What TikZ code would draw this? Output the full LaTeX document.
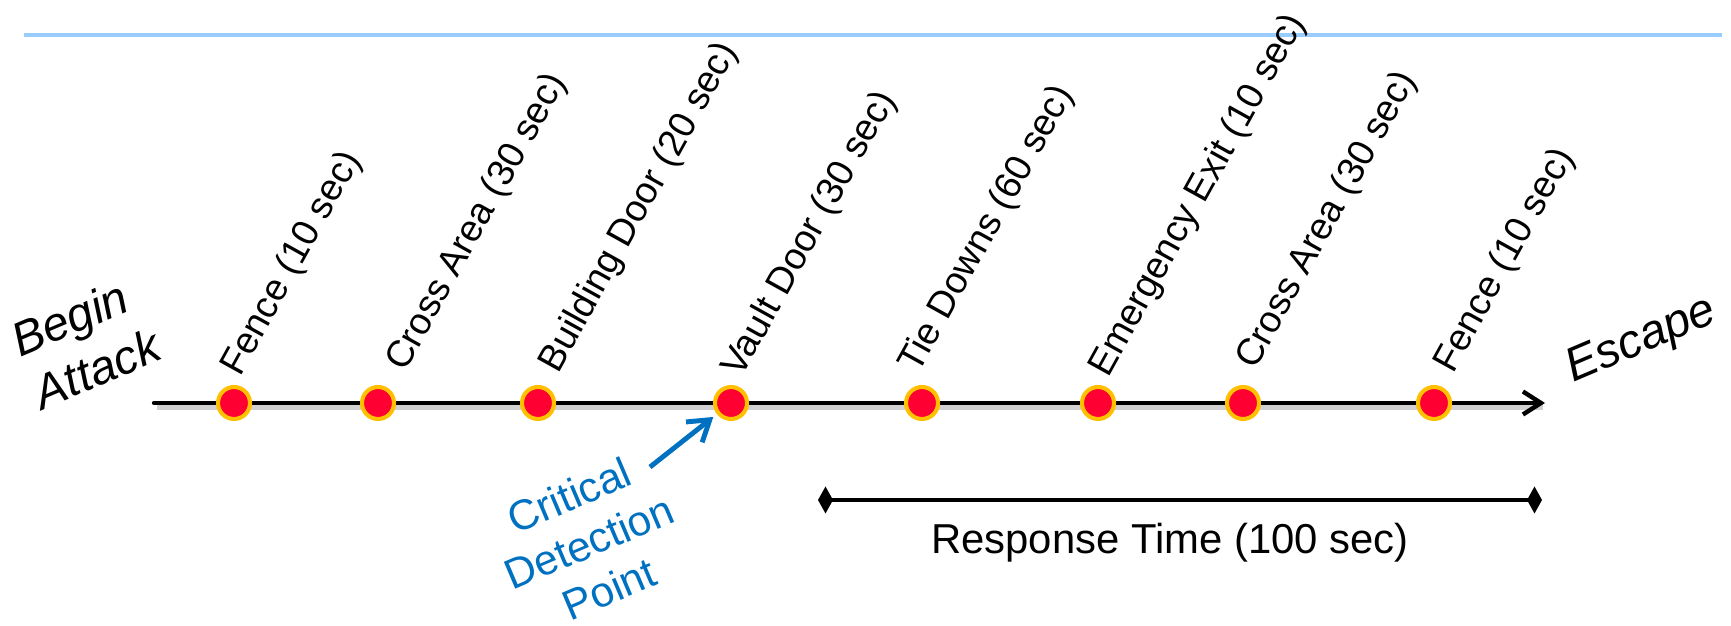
\documentclass[tikz,border=0pt]{standalone}
\usepackage{fontspec}
\setmainfont{Liberation Sans}
\usetikzlibrary{arrows.meta,calc}
\definecolor{dotred}{RGB}{255,0,51}
\definecolor{dotgold}{RGB}{255,192,0}
\definecolor{critblue}{RGB}{0,112,192}
\definecolor{rulerblue}{RGB}{153,204,255}
\tikzset{
  hurdle/.style={circle, fill=dotred, draw=dotgold, line width=2.3pt, minimum size=0.64cm, inner sep=0pt},
  hurdlelabel/.style={rotate=61, anchor=base west, inner sep=0pt, font=\fontsize{21.3}{25}\selectfont},
  endlabel/.style={rotate=23, inner sep=0pt, font=\fontsize{27}{32.6}\selectfont\itshape},
  track/.style={line width=2.5pt, line cap=round, -{Straight Barb[length=0.36cm,width=0.46cm]}},
  span/.style={line width=2.3pt, {Diamond[length=0.3cm,width=0.54cm]}-{Diamond[length=0.3cm,width=0.54cm]}},
  pointer/.style={critblue, line width=2.8pt, shorten >=0.09cm, -{Straight Barb[length=0.4cm,width=0.52cm]}}
}

\begin{document}
\begin{tikzpicture}
            \useasboundingbox (0,0) rectangle (34.62,12.5);

            % top rule
            \draw[rulerblue, line width=2.3pt] (0.48,11.8) -- (34.44,11.8);

            % time line
            \coordinate (go) at (3.08,4.44);
            \coordinate (out) at (30.9,4.44);
            \draw[black!18, line width=3pt] ($(go)+(0.05,-0.08)$) -- ($(out)+(-0.05,-0.08)$);
            \draw[track] (go) -- (out);

            \node[hurdle] (d1) at (4.68,4.44) {};
            \node[hurdle] (d2) at (7.56,4.44) {};
            \node[hurdle] (d3) at (10.76,4.44) {};
            \node[hurdle] (d4) at (14.62,4.44) {};
            \node[hurdle] (d5) at (18.44,4.44) {};
            \node[hurdle] (d6) at (21.96,4.44) {};
            \node[hurdle] (d7) at (24.86,4.44) {};
            \node[hurdle] (d8) at (28.68,4.44) {};

            \node[hurdlelabel] (t1) at ($(d1)+(0.12,0.5)$) {Fence (10 sec)};
            \node[hurdlelabel] (t2) at ($(d2)+(0.54,0.6)$) {Cross Area (30 sec)};
            \node[hurdlelabel] (t3) at ($(d3)+(0.4,0.56)$) {Building Door (20 sec)};
            \node[hurdlelabel] (t4) at ($(d4)+(0.2,0.48)$) {Vault Door (30 sec)};
            \node[hurdlelabel] (t5) at ($(d5)+(-0.08,0.56)$) {Tie Downs (60 sec)};
            \node[hurdlelabel] (t6) at ($(d6)+(0.2,0.48)$) {Emergency Exit (10 sec)};
            \node[hurdlelabel] (t7) at ($(d7)+(0.24,0.64)$) {Cross Area (30 sec)};
            \node[hurdlelabel] (t8) at ($(d8)+(0.38,0.56)$) {Fence (10 sec)};

            \node[endlabel, anchor=north west, align=left] (begin) at (0.13,5.99) {Begin\\Attack};
            \node[endlabel, anchor=base west] (escape) at (31.46,4.84) {Escape};

            % critical detection point
            \node[rotate=23, align=center, inner sep=0pt, text=critblue,
                  font=\fontsize{24.1}{28.9}\selectfont] (cdp) at (11.78,1.66) {Critical\\Detection\\Point};
            \coordinate (cdpfoot) at (13.0,3.16);
            \draw[pointer] (cdpfoot) -- (d4);

            % response time
            \coordinate (rs) at (16.36,2.5);
            \coordinate (re) at (30.84,2.5);
            \draw[span] (rs) -- (re);
            \node[anchor=base, inner sep=0pt, font=\fontsize{23.8}{28}\selectfont] (resp) at (23.4,1.44) {Response Time (100 sec)};
        \end{tikzpicture}
\end{document}
